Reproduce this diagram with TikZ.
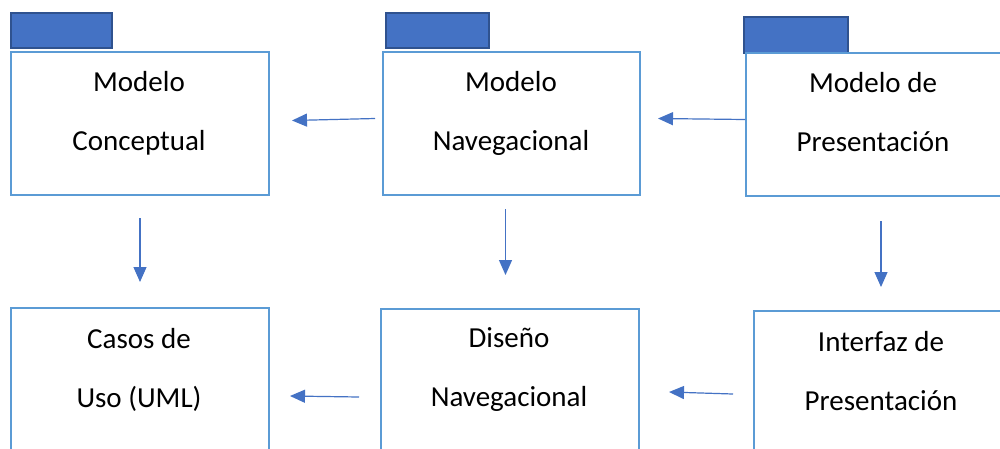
\documentclass[tikz,border=0pt]{standalone}
\usepackage{fontspec}
\setmainfont{Carlito}
\usetikzlibrary{arrows.meta,calc}
\definecolor{boxline}{HTML}{5B9BD5}
\definecolor{tabfill}{HTML}{4472C4}
\definecolor{tabline}{HTML}{2F528F}
\definecolor{arrowc}{HTML}{4472C4}
\tikzset{
  pkg/.style={draw=boxline, line width=2pt, fill=white, anchor=north west, inner sep=0pt},
  pkgtab/.style={draw=tabline, line width=1.6pt, fill=tabfill, anchor=north west, inner sep=0pt},
  lbl/.style={align=center, font=\fontsize{29}{59}\selectfont, inner sep=0pt},
  flow/.style={draw=arrowc, line width=1.2pt, -{Triangle[length=15pt,width=13pt]}}
}
\begin{document}
\begin{tikzpicture}[x=1pt,y=-1pt]
\useasboundingbox (0,0) rectangle (1000,448);
\fill[white] (0,0) rectangle (1000,448);
\clip (0,0) rectangle (1000,448);
% top row: package boxes with their tabs
\node[pkgtab, minimum width=101pt, minimum height=35pt] (t1) at (10,12) {};
\node[pkg, minimum width=258pt, minimum height=143pt] (b1) at (10,51) {};
\node[pkgtab, minimum width=103pt, minimum height=35pt] (t2) at (385,12) {};
\node[pkg, minimum width=257pt, minimum height=143pt] (b2) at (382,51) {};
\node[pkgtab, minimum width=104pt, minimum height=36pt] (t3) at (743,16) {};
\node[pkg, minimum width=280pt, minimum height=143pt] (b3) at (745,52) {};
% bottom row
\node[pkg, minimum width=258pt, minimum height=160pt] (c1) at (10,307) {};
\node[pkg, minimum width=258pt, minimum height=160pt] (c2) at (380,308) {};
\node[pkg, minimum width=280pt, minimum height=160pt] (c3) at (753,310) {};
% labels
\node[lbl] (l1) at (139,113) {Modelo\\Conceptual};
\node[lbl] (l2) at (511,113) {Modelo\\Navegacional};
\node[lbl] (l3) at (873,112) {Modelo de\\Presentación};
\node[lbl] (m1) at (139,370) {Casos de\\Uso (UML)};
\node[lbl] (m2) at (509,370) {Diseño\\Navegacional};
\node[lbl] (m3) at (881,371) {Interfaz de\\Presentación};
% connectors
\draw[flow] ($(b2.west)+(-7,-5)$) -- ($(b1.east)+(22,-3)$);
\draw[flow] ($(b3.west)+(0,-5)$) -- ($(b2.east)+(17,-5)$);
\draw[flow] ($(c2.west)+(-21,8)$) -- ($(c1.east)+(20,8)$);
\draw[flow] ($(c3.west)+(-20,3)$) -- ($(c2.east)+(29,3)$);
\draw[flow] ($(b1.south)+(0,22)$) -- ($(b1.south)+(0,86)$);
\draw[flow] ($(b2.south)+(-6,13)$) -- ($(b2.south)+(-6,79)$);
\draw[flow] ($(b3.south)+(-5,24)$) -- ($(b3.south)+(-5,90)$);
\end{tikzpicture}
\end{document}
